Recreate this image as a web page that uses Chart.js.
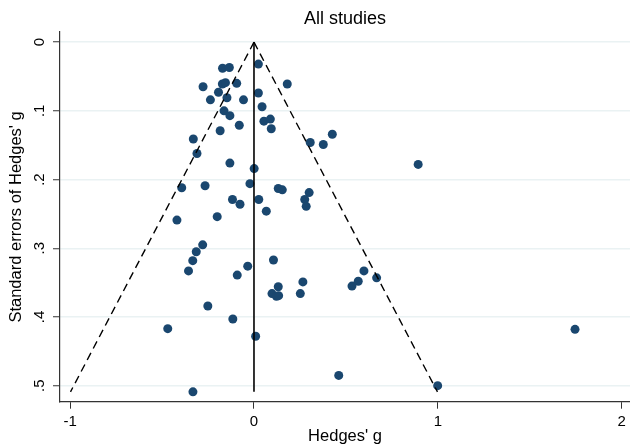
<!DOCTYPE html>
<html>
<head>
<meta charset="utf-8">
<script src="https://cdn.jsdelivr.net/npm/chart.js@4/dist/chart.umd.min.js"></script>
<style>
  html, body { margin: 0; padding: 0; background: #fff; }
  canvas { display: block; }
</style>
</head>
<body>
<canvas id="funnel" width="630" height="447"></canvas>
<script>
// Hedges' g per study (x) and its standard error (y)
const hedgesG = [
  -0.171, -0.134, 0.024, -0.277, -0.172, -0.155, -0.094, 0.181, -0.193, -0.237,
  -0.147, -0.057, 0.024, -0.163, -0.131, 0.044, 0.054, 0.089, 0.094, -0.080,
  -0.184, -0.330, -0.310, 0.306, 0.377, 0.426, 0.893, -0.131, 0.001, -0.393,
  -0.266, -0.022, 0.132, 0.154, 0.300, 0.276, 0.284, -0.117, -0.076, 0.026,
  0.067, -0.419, -0.200, -0.279, -0.314, -0.333, -0.356, 0.106, -0.034, -0.091,
  0.132, 0.266, 0.098, 0.122, 0.134, 0.252, -0.251, -0.115, -0.469, 0.009,
  0.598, 0.567, 0.533, 0.667, 1.746, 0.461, 0.999, -0.332
];
const stdErr = [
  0.038, 0.037, 0.032, 0.065, 0.061, 0.059, 0.060, 0.061, 0.073, 0.084,
  0.081, 0.084, 0.074, 0.100, 0.107, 0.094, 0.115, 0.112, 0.126, 0.121,
  0.129, 0.141, 0.162, 0.146, 0.149, 0.134, 0.178, 0.176, 0.184, 0.212,
  0.209, 0.206, 0.213, 0.215, 0.219, 0.229, 0.239, 0.229, 0.236, 0.229,
  0.246, 0.259, 0.254, 0.295, 0.305, 0.318, 0.333, 0.317, 0.326, 0.339,
  0.356, 0.349, 0.366, 0.370, 0.369, 0.366, 0.384, 0.403, 0.417, 0.428,
  0.333, 0.348, 0.355, 0.343, 0.418, 0.485, 0.500, 0.509
];

// pooled effect line and pseudo 95% limits (endpoints)
const lineSe = [0, 0.509];
const pooledLine = [0, 0];
const lowerLimit = [0, -0.998];
const upperLimit = [0, 0.998];

const xTicks = [-1, 0, 1, 2];
const yTicks = [0, 0.1, 0.2, 0.3, 0.4, 0.5];

const pts = (xs, ys) => xs.map((x, i) => ({ x: x, y: ys[i] }));

Chart.defaults.font.family = "'Liberation Sans', Arial, sans-serif";
Chart.defaults.color = '#000';

new Chart(document.getElementById('funnel'), {
  type: 'scatter',
  data: {
    datasets: [
      {
        type: 'line',
        data: pts(lowerLimit, lineSe),
        borderColor: '#000', borderWidth: 1.4, borderDash: [8, 5],
        pointRadius: 0, fill: false
      },
      {
        type: 'line',
        data: pts(upperLimit, lineSe),
        borderColor: '#000', borderWidth: 1.4, borderDash: [8, 5],
        pointRadius: 0, fill: false
      },
      {
        type: 'line',
        data: pts(pooledLine, lineSe),
        borderColor: '#000', borderWidth: 1.6,
        pointRadius: 0, fill: false
      },
      {
        data: pts(hedgesG, stdErr),
        backgroundColor: '#1a476f',
        borderWidth: 0,
        pointRadius: 4.5
      }
    ]
  },
  options: {
    responsive: false,
    animation: false,
    devicePixelRatio: 1,
    layout: { padding: 0, autoPadding: false },
    plugins: {
      legend: { display: false },
      tooltip: { enabled: false },
      title: {
        display: true,
        text: 'All studies',
        fullSize: false,
        font: { size: 18, weight: 'normal' },
        color: '#000',
        padding: { top: 8, bottom: 2.5 }
      }
    },
    scales: {
      x: {
        type: 'linear',
        min: -1.055,
        max: 2.045,
        afterBuildTicks: s => { s.ticks = xTicks.map(v => ({ value: v })); },
        afterFit: s => { s.height = 45.3; s.paddingLeft = 0; s.paddingRight = 0; },
        grid: { drawOnChartArea: false, drawTicks: true, tickLength: 7, tickColor: '#333', tickWidth: 1 },
        border: { display: true, color: '#333', width: 1.2 },
        ticks: { autoSkip: false, padding: 4, font: { size: 15 }, color: '#000',
                 callback: v => String(v) },
        title: { display: true, text: "Hedges' g", font: { size: 16.5 }, color: '#000',
                 padding: { top: 0, bottom: 1 } }
      },
      y: {
        type: 'linear',
        reverse: true,
        min: -0.0146,
        max: 0.5233,
        afterBuildTicks: s => { s.ticks = yTicks.map(v => ({ value: v })); },
        afterFit: s => { s.width = 60; s.paddingTop = 0; s.paddingBottom = 0; },
        grid: { color: '#eaf2f3', lineWidth: 1.5, drawTicks: true, tickLength: 7, tickColor: '#333', tickWidth: 1 },
        border: { display: true, color: '#333', width: 1.2 },
        ticks: {
          autoSkip: false, minRotation: 90, maxRotation: 90, crossAlign: 'center',
          padding: 7, font: { size: 15 }, color: '#000',
          callback: v => v === 0 ? '0' : v.toFixed(1).replace(/^0/, '')
        },
        title: { display: true, text: "Standard errors of Hedges' g", font: { size: 16.5 }, color: '#000',
                 padding: { top: 7, bottom: 0 } }
      }
    }
  }
});
</script>
</body>
</html>
